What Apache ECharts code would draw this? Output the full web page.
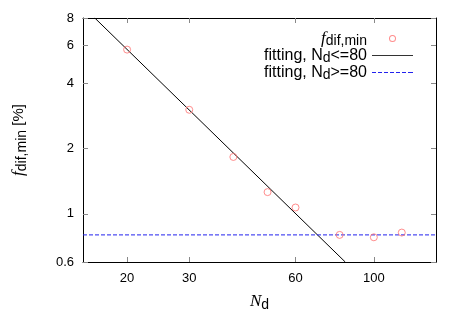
<!DOCTYPE html>
<html>
<head>
<meta charset="UTF-8">
<title>f_dif,min vs N_d</title>
<script src="https://cdn.jsdelivr.net/npm/echarts@6/dist/echarts.min.js"></script>
<style>
  body { margin: 0; background: #fff; }
  #main { width: 463px; height: 324px; }
</style>
</head>
<body>
<div id="main"></div>
<script>
// measured values, N_d and f_dif,min [%]
var nd = [20, 30, 40, 50, 60, 80, 100, 120];
var fdif = [5.72, 3.02, 1.83, 1.26, 1.07, 0.80, 0.78, 0.82];
// fitted lines, endpoints
var fitLow = [[16.2, 8], [83, 0.6]];
var fitHigh = [[15, 0.8], [150, 0.8]];
var xTicks = [20, 30, 60, 100];
var yTicks = [0.6, 1, 2, 4, 6, 8];

var font = 'Liberation Sans';
var rich = {
  i: { fontStyle: 'italic', fontFamily: 'Liberation Serif', fontSize: 17, color: '#000' },
  s: { fontSize: 14, fontFamily: font, color: '#000', padding: [7, 0, 0, 0] },
  n: { fontSize: 15, fontFamily: font, color: '#000' }
};
var legRich = {
  i: { fontStyle: 'italic', fontFamily: 'Liberation Serif', fontSize: 17, color: '#000', lineHeight: 14 },
  s: { fontSize: 14, fontFamily: font, color: '#000', padding: [5, 0, 0, 0], lineHeight: 14 },
  n: { fontSize: 16, fontFamily: font, color: '#000', lineHeight: 14 }
};

// legend sample shapes, 41 px wide
var solidIcon = 'path://M0,0H41V1H0Z';
var dashIcon = 'path://M0,0h4v1h-4zM6,0h4v1h-4zM12,0h4v1h-4zM18,0h4v1h-4zM24,0h4v1h-4zM30,0h4v1h-4zM36,0h5v1h-5z';
var ringIcon = 'path://M0,3.5h0.01v0.01h-0.01zM40.99,3.5h0.01v0.01h-0.01z' +
  'M17,3.5A3.5,3.5 0 1,0 24,3.5A3.5,3.5 0 1,0 17,3.5Z' +
  'M18,3.5A2.5,2.5 0 1,1 23,3.5A2.5,2.5 0 1,1 18,3.5Z';

var chart = echarts.init(document.getElementById('main'));

function tickAxis(extra) {
  var base = {
    type: 'log',
    axisLine: { show: true, lineStyle: { color: '#000', width: 1 } },
    splitLine: { show: false },
    minorTick: { show: false }
  };
  return Object.assign(base, extra);
}
function ticks(vals) {
  return { show: true, inside: true, length: 5, lineStyle: { color: '#888' }, customValues: vals };
}

var scatterData = nd.map(function (n, i) { return [n, fdif[i]]; });

var option = {
  animation: false,
  grid: { left: 83, right: 27, top: 18, bottom: 62 },
  xAxis: [
    tickAxis({
      min: 15, max: 150, position: 'bottom',
      axisTick: ticks(xTicks),
      axisLabel: { customValues: xTicks, color: '#000', fontFamily: font, fontSize: 13, margin: 10 },
      name: '{i|N}{s|d}', nameLocation: 'middle', nameGap: 29,
      nameTextStyle: { rich: rich }
    }),
    tickAxis({
      min: 15, max: 150, position: 'top',
      axisTick: ticks(xTicks),
      axisLabel: { show: false }
    })
  ],
  yAxis: [
    tickAxis({
      min: 0.6, max: 8, position: 'left',
      axisTick: ticks(yTicks),
      axisLabel: { customValues: yTicks, color: '#000', fontFamily: font, fontSize: 13, margin: 9 },
      name: '{i|f}{s|dif,min}{n| [%]}', nameLocation: 'middle', nameGap: 54, nameRotate: 90,
      nameTextStyle: { rich: rich }
    }),
    tickAxis({
      min: 0.6, max: 8, position: 'right',
      axisTick: ticks(yTicks),
      axisLabel: { show: false }
    })
  ],
  legend: {
    orient: 'vertical',
    align: 'right',
    right: 50,
    top: 29,
    itemGap: -2,
    itemWidth: 41,
    itemHeight: 7,
    padding: 0,
    symbolKeepAspect: true,
    textStyle: { fontFamily: font, fontSize: 16, color: '#000', rich: legRich },
    formatter: function (name) {
      if (name === 'fdif') return '{i|f}{s|dif,min}';
      if (name === 'low') return '{n|fitting, N}{s|d}{n|<=80}';
      return '{n|fitting, N}{s|d}{n|>=80}';
    },
    data: [
      { name: 'fdif', icon: ringIcon, itemStyle: { color: '#ff7070', borderWidth: 0 } },
      { name: 'low', icon: solidIcon, itemStyle: { color: '#333', borderWidth: 0 } },
      { name: 'high', icon: dashIcon, itemStyle: { color: '#2222ee', borderWidth: 0 } }
    ]
  },
  series: [
    {
      name: 'fdif', type: 'scatter', data: scatterData,
      symbol: 'circle', symbolSize: 7,
      itemStyle: { color: 'rgba(0,0,0,0)', borderColor: '#ff7070', borderWidth: 1 },
      z: 5
    },
    {
      name: 'low', type: 'line', data: fitLow, symbol: 'none',
      lineStyle: { color: '#000', width: 1 }, itemStyle: { color: '#000' }
    },
    {
      name: 'high', type: 'line', data: fitHigh, symbol: 'none',
      lineStyle: { color: '#2222ee', width: 1, type: [4, 2] }, itemStyle: { color: '#2222ee' }
    }
  ]
};
chart.setOption(option);
</script>
</body>
</html>
